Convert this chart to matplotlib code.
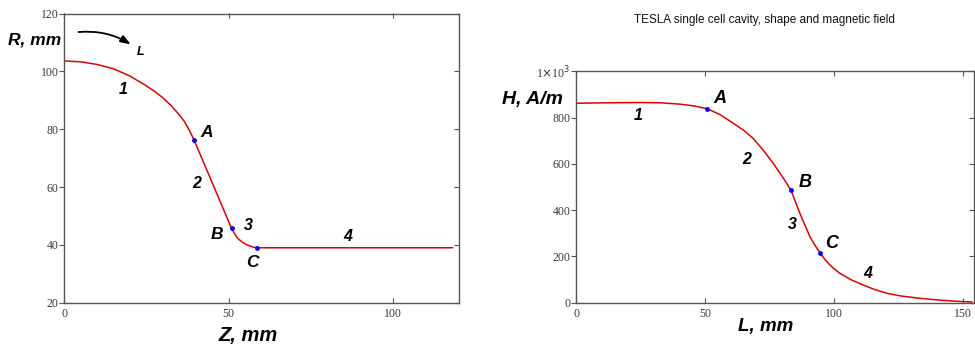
import matplotlib
matplotlib.use("Agg")
import matplotlib.pyplot as plt
from matplotlib.ticker import FuncFormatter

# ---- cavity shape: radius R vs longitudinal coordinate Z (mm) ----
z_shape = [0, 5, 10, 15, 20, 25, 27.5, 30, 32.5, 35, 36.5, 38, 39.5,
           45.2, 50.9, 51.7, 52.4, 53.2, 54.0, 55.2, 56.5, 57.6, 58.7, 118]
r_shape = [103.6, 103.3, 102.4, 100.9, 98.4, 95.0, 93.1, 90.9, 88.2, 85.0,
           82.8, 79.8, 76.3,
           61.0, 45.7, 44.1, 42.8, 41.8, 41.1, 40.2, 39.6, 39.2, 39.0, 39.0]
z_points = [39.5, 50.9, 58.7]
r_points = [76.3, 45.7, 39.0]

# ---- surface magnetic field H vs path length L (mm) ----
l_field = [0, 13.2, 24, 32.6, 40.3, 46, 50.9, 56, 61.0, 65, 68.7, 72.5, 76.5,
           80, 83.3, 86.8, 90.7, 92.7, 94.6, 96.3, 98, 100, 102.3, 106.5, 111.4,
           115.5, 120.4, 126, 133.3, 140, 146.2, 153.5]
h_field = [862, 864, 865, 864, 858, 850, 838, 812, 775, 745, 710, 660, 602,
           545, 487, 386, 285, 247, 216, 190, 168, 147, 127, 100, 76,
           58, 41, 29, 19, 12, 7, 3]
l_points = [50.9, 83.3, 94.6]
h_points = [838, 487, 216]

segment_names = ["1", "2", "3", "4"]
point_names = ["A", "B", "C"]

shape_label_pos = [(18, 93.8), (40.3, 61.3), (56, 46.6), (86.3, 42.8)]
shape_point_pos = [(43.3, 78.8), (46.4, 43.6), (57.2, 34.0)]
field_label_pos = [(24.2, 811), (66.2, 620), (84.0, 336), (113, 127)]
field_point_pos = [(55.8, 883), (88.8, 519), (99.1, 254)]

W, H = 975, 350
fig = plt.figure(figsize=(W / 100, H / 100), dpi=100)

LINE_RED = "#e00000"
SPINE = "#555555"
TICK_TXT = "#3a3a3a"
bold_it = dict(family="Liberation Sans", weight="bold", style="italic", color="black")


def style_axes(ax):
    for s in ax.spines.values():
        s.set_color(SPINE)
        s.set_linewidth(1.0)
    ax.tick_params(axis="y", which="both", direction="out", length=3.5, width=0.8,
                   color=SPINE, pad=0.5, labelsize=8.5, labelcolor=TICK_TXT,
                   right=False)
    ax.tick_params(axis="x", which="both", direction="in", length=3.5, width=0.8,
                   color=SPINE, pad=4, labelsize=8.5, labelcolor=TICK_TXT,
                   top=False)
    for lab in ax.get_xticklabels() + ax.get_yticklabels():
        lab.set_family("Liberation Serif")
    # inward ticks on the top and right frame lines
    sec_x = ax.secondary_xaxis("top")
    sec_x.set_xticks(ax.get_xticks())
    sec_x.tick_params(direction="in", length=3.5, width=0.8, color=SPINE, labeltop=False)
    sec_x.spines["top"].set_visible(False)
    sec_y = ax.secondary_yaxis("right")
    sec_y.set_yticks(ax.get_yticks())
    sec_y.tick_params(direction="in", length=3.5, width=0.8, color=SPINE, labelright=False)
    sec_y.spines["right"].set_visible(False)


def px(x, y):
    return x / W, 1 - y / H


# ---------------- left panel: cell shape ----------------
ax1 = fig.add_axes([64 / W, 1 - 302.7 / H, (459 - 64) / W, (302.7 - 13.5) / H])
ax1.plot(z_shape, r_shape, color=LINE_RED, lw=1.1)
ax1.plot(z_points, r_points, "o", color="#0000ff", ms=3.5, mew=0)
ax1.set_xlim(0, 120)
ax1.set_ylim(20, 120)
ax1.set_xticks([0, 50, 100])
ax1.set_yticks([20, 40, 60, 80, 100, 120])
style_axes(ax1)

for name, (x, y) in zip(segment_names, shape_label_pos):
    ax1.text(x, y, name, ha="center", va="center", fontsize=11.5, **bold_it)
for name, (x, y) in zip(point_names, shape_point_pos):
    ax1.text(x, y, name, ha="center", va="center", fontsize=12.5, **bold_it)

ax1.annotate("", xy=(21.0, 108.8), xytext=(3.6, 113.5),
             arrowprops=dict(arrowstyle="-|>,head_length=0.6,head_width=0.22",
                             color="black", lw=1.3,
                             connectionstyle="arc3,rad=-0.18"))
ax1.text(23.4, 106.8, "L", ha="center", va="center", fontsize=9, **bold_it)

fig.text(*px(35, 40), "R, mm", ha="center", va="center", fontsize=12.5, **bold_it)
fig.text(*px(248, 336), "Z, mm", ha="center", va="center", fontsize=14.5, **bold_it)

# ---------------- right panel: magnetic field ----------------
ax2 = fig.add_axes([576 / W, 1 - 302.7 / H, (973.5 - 576) / W, (302.7 - 71.3) / H])
ax2.plot(l_field, h_field, color=LINE_RED, lw=1.1)
ax2.plot(l_points, h_points, "o", color="#0000ff", ms=3.5, mew=0)
ax2.set_xlim(0, 154.1)
ax2.set_ylim(0, 1000)
ax2.set_xticks([0, 50, 100, 150])
ax2.set_yticks([0, 200, 400, 600, 800, 1000])
ax2.yaxis.set_major_formatter(
    FuncFormatter(lambda v, p: r"1$\times$10$^3$" if v == 1000 else f"{v:.0f}"))
style_axes(ax2)
for lab in ax2.get_yticklabels():
    lab.set_family("Liberation Serif")

for name, (x, y) in zip(segment_names, field_label_pos):
    ax2.text(x, y, name, ha="center", va="center", fontsize=11.5, **bold_it)
for name, (x, y) in zip(point_names, field_point_pos):
    ax2.text(x, y, name, ha="center", va="center", fontsize=13, **bold_it)

fig.text(*px(532, 99), "H, A/m", ha="center", va="center", fontsize=14, **bold_it)
fig.text(*px(766, 327), "L, mm", ha="center", va="center", fontsize=13.5, **bold_it)
fig.text(*px(764, 20), "TESLA single cell cavity, shape and magnetic field",
         ha="center", va="center", fontsize=8.5, family="Liberation Sans", color="#111111")

fig.savefig("out.png", dpi=100)
